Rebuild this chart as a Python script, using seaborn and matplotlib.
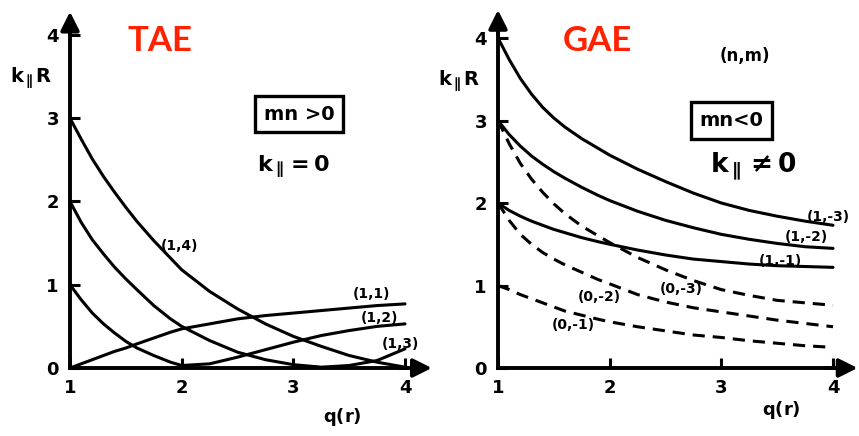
import numpy as np
import pandas as pd
import matplotlib
matplotlib.use("Agg")
import matplotlib.pyplot as plt
import seaborn as sns

sns.set_theme(style="white")
plt.rcParams["font.family"] = ["DejaVu Sans"]
plt.rcParams["mathtext.fontset"] = "dejavusans"
plt.rcParams["mathtext.default"] = "bf"
plt.rcParams["text.color"] = "black"
plt.rcParams["axes.labelcolor"] = "black"
plt.rcParams["xtick.color"] = "black"
plt.rcParams["ytick.color"] = "black"

# safety factor q(r) sampled along the horizontal axis
q = [1.0, 1.1, 1.2, 1.3, 1.4, 1.5, 1.6, 1.75, 1.9, 2.0,
     2.25, 2.5, 2.75, 3.0, 3.25, 3.5, 3.75, 4.0]

# TAE branches, mn > 0, |k_par R| for (n, m)
tae_11 = [0.00, 0.05, 0.10, 0.15, 0.20, 0.24, 0.29, 0.36, 0.43, 0.47,
          0.53, 0.59, 0.63, 0.66, 0.69, 0.72, 0.75, 0.77]
tae_12 = [1.00, 0.82, 0.66, 0.53, 0.42, 0.32, 0.24, 0.15, 0.07, 0.03,
          0.05, 0.13, 0.22, 0.31, 0.39, 0.45, 0.50, 0.53]
tae_13 = [2.00, 1.75, 1.54, 1.37, 1.21, 1.07, 0.94, 0.75, 0.59, 0.50,
          0.33, 0.19, 0.10, 0.04, 0.01, 0.03, 0.09, 0.23]
tae_14 = [3.00, 2.75, 2.51, 2.30, 2.11, 1.93, 1.76, 1.53, 1.32, 1.18,
          0.92, 0.71, 0.53, 0.38, 0.26, 0.15, 0.07, 0.01]

# GAE branches, mn < 0
gae_1m3 = [4.00, 3.74, 3.51, 3.32, 3.16, 3.03, 2.92, 2.78, 2.66, 2.58,
           2.41, 2.26, 2.12, 2.00, 1.91, 1.84, 1.78, 1.73]
gae_1m2 = [3.00, 2.83, 2.69, 2.57, 2.47, 2.38, 2.30, 2.19, 2.09, 2.03,
           1.90, 1.79, 1.70, 1.62, 1.56, 1.51, 1.47, 1.45]
gae_1m1 = [2.00, 1.91, 1.84, 1.78, 1.73, 1.68, 1.64, 1.58, 1.53, 1.50,
           1.43, 1.37, 1.32, 1.29, 1.26, 1.24, 1.23, 1.22]
gae_0m3 = [3.00, 2.72, 2.48, 2.29, 2.13, 1.99, 1.87, 1.72, 1.60, 1.52,
           1.34, 1.19, 1.06, 0.95, 0.88, 0.82, 0.79, 0.76]
gae_0m2 = [2.00, 1.79, 1.62, 1.50, 1.40, 1.32, 1.25, 1.16, 1.07, 1.02,
           0.89, 0.80, 0.73, 0.68, 0.63, 0.58, 0.54, 0.50]
gae_0m1 = [1.00, 0.95, 0.89, 0.84, 0.79, 0.74, 0.69, 0.64, 0.59, 0.56,
           0.50, 0.45, 0.40, 0.37, 0.33, 0.30, 0.27, 0.25]

y_ticks = [0, 1, 2, 3, 4]
x_ticks = [1, 2, 3, 4]


def long_frame(series, kinds):
    rows = []
    for name, vals in series.items():
        for qq, v in zip(q, vals):
            rows.append({"q": qq, "k": v, "mode": name, "kind": kinds[name]})
    return pd.DataFrame(rows)


tae = long_frame({"(1,1)": tae_11, "(1,2)": tae_12, "(1,3)": tae_13, "(1,4)": tae_14},
                 {"(1,1)": "solid", "(1,2)": "solid", "(1,3)": "solid", "(1,4)": "solid"})
gae = long_frame({"(1,-3)": gae_1m3, "(1,-2)": gae_1m2, "(1,-1)": gae_1m1,
                  "(0,-3)": gae_0m3, "(0,-2)": gae_0m2, "(0,-1)": gae_0m1},
                 {"(1,-3)": "solid", "(1,-2)": "solid", "(1,-1)": "solid",
                  "(0,-3)": "dashed", "(0,-2)": "dashed", "(0,-1)": "dashed"})

W, H = 859, 436
fig = plt.figure(figsize=(W / 100, H / 100), dpi=100)
ax1 = fig.add_axes([0, 0, 440 / W, 1])
ax2 = fig.add_axes([430 / W, 0, 429 / W, 1])
ax1.patch.set_alpha(0)
ax2.patch.set_alpha(0)

dash_map = {"solid": "", "dashed": (4, 2.6)}
for ax, df in ((ax1, tae), (ax2, gae)):
    sns.lineplot(data=df, x="q", y="k", units="mode", estimator=None, sort=False,
                 style="kind", dashes=dash_map, color="black", linewidth=2.2,
                 legend=False, ax=ax)

ax1.set_xlim(0.3732, 4.3133)
ax1.set_ylim(-0.8168, 4.4204)
ax2.set_xlim(0.3911, 4.2328)
ax2.set_ylim(-0.8242, 4.4606)


def style_axes(ax, ytop, xend):
    for s in ("top", "right"):
        ax.spines[s].set_visible(False)
    ax.spines["left"].set_position(("data", 1))
    ax.spines["bottom"].set_position(("data", 0))
    ax.spines["left"].set_bounds(0, ytop - 0.1)
    ax.spines["bottom"].set_bounds(1, xend - 0.1)
    for s in ("left", "bottom"):
        ax.spines[s].set_color("black")
        ax.spines[s].set_linewidth(2.8)
    ax.set_xticks(x_ticks)
    ax.set_yticks(y_ticks)
    ax.set_xticklabels([str(t) for t in x_ticks])
    ax.set_yticklabels([str(t) for t in y_ticks])
    ax.tick_params(axis="both", direction="in", length=7, width=2.2,
                   color="black", labelsize=13, labelcolor="black", pad=8,
                   left=True, bottom=True)
    for lbl in ax.get_xticklabels() + ax.get_yticklabels():
        lbl.set_fontweight("bold")
    ax.set_xlabel("")
    ax.set_ylabel("")
    arrow = dict(arrowstyle="-|>,head_length=0.7,head_width=0.35", color="black",
                 lw=2.8, mutation_scale=16, shrinkA=0, shrinkB=0)
    ax.annotate("", xy=(1, ytop), xytext=(1, ytop - 0.3), arrowprops=arrow,
                annotation_clip=False)
    ax.annotate("", xy=(xend, 0), xytext=(xend - 0.3, 0), arrowprops=arrow,
                annotation_clip=False)


style_axes(ax1, 4.28, 4.24)
style_axes(ax2, 4.34, 4.22)

red = "#ff2200"
title_font = dict(family="Lato", fontweight="bold", fontsize=25, color=red,
                  ha="center", va="center")
ax1.text(1.806, 3.93, "TAE", **title_font)
ax2.text(1.887, 3.96, "GAE", **title_font)

lab = dict(fontsize=14, color="black", ha="center", va="center")
ax1.text(0.65, 3.48, r"$k_{\parallel}R$", **lab)
ax2.text(0.65, 3.47, r"$k_{\parallel}R$", **lab)
ax1.text(3.44, -0.59, r"$q(r)$", fontsize=13, ha="center", va="center")
ax2.text(3.54, -0.51, r"$q(r)$", fontsize=13, ha="center", va="center")

box = dict(boxstyle="square,pad=0.45", fc="white", ec="black", lw=2.4)
ax1.text(3.05, 3.05, "mn >0", fontsize=14, fontweight="bold", ha="center",
         va="center", bbox=box)
ax2.text(3.09, 3.0, "mn<0", fontsize=14, fontweight="bold", ha="center",
         va="center", bbox=box)
ax1.text(3.0, 2.41, r"$k_{\parallel} = 0$", fontsize=16, ha="center", va="center")
ax2.text(3.29, 2.45, r"$k_{\parallel} \neq 0$", fontsize=19, ha="center", va="center")
ax2.text(3.21, 3.78, "(n,m)", fontsize=12, fontweight="bold", ha="center", va="center")

curve_lab = dict(fontsize=10, fontweight="bold", ha="center", va="center")
for ax, (x, y, s) in [(ax1, (1.98, 1.47, "(1,4)")), (ax1, (3.70, 0.89, "(1,1)")),
                      (ax1, (3.77, 0.60, "(1,2)")), (ax1, (3.96, 0.29, "(1,3)")),
                      (ax2, (3.96, 1.83, "(1,-3)")), (ax2, (3.76, 1.59, "(1,-2)")),
                      (ax2, (3.53, 1.30, "(1,-1)")), (ax2, (2.64, 0.96, "(0,-3)")),
                      (ax2, (1.91, 0.86, "(0,-2)")), (ax2, (1.67, 0.52, "(0,-1)"))]:
    ax.text(x, y, s, **curve_lab)

fig.savefig("out.png", dpi=100)
